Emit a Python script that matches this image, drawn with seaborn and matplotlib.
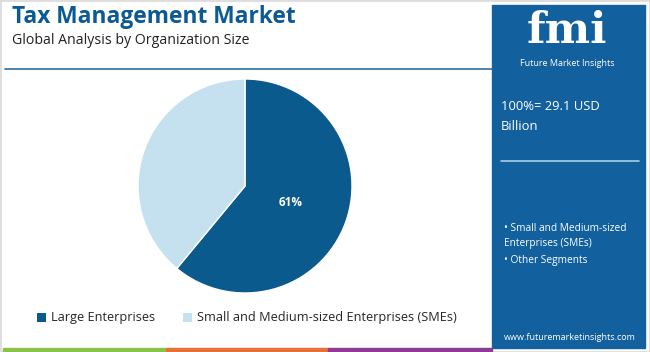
import matplotlib
matplotlib.use("Agg")
import matplotlib.pyplot as plt
from matplotlib.patches import Rectangle, Patch
import seaborn as sns

# data
segments = ["Large Enterprises", "Small and Medium-sized Enterprises (SMEs)"]
shares = [61, 39]
colors = ["#0b5a8e", "#c5e1ef"]
title = "Tax Management Market"
subtitle = "Global Analysis by Organization Size"
total_text = "100%= 29.1 USD\nBillion"
side_items = ["\u2022 Small and Medium-sized\nEnterprises (SMEs)", "\u2022 Other Segments"]

sns.set_theme(style="white")
plt.rcParams['font.family'] = ['Open Sans', 'DejaVu Sans']

W, H = 650, 352
fig = plt.figure(figsize=(W / 100, H / 100), dpi=100)
fig.patch.set_facecolor("white")

def fx(x):
    return x / W

def fy(y):
    return 1 - y / H

# outer light border
fig.add_artist(Rectangle((0, 0), 1, 1, transform=fig.transFigure, fill=False,
                         edgecolor="#dddddd", linewidth=2))

# title block
fig.text(fx(12), fy(17), title, fontsize=16.4, fontweight="bold", color="#0b5a94",
         va="center", ha="left")
fig.text(fx(12), fy(41), subtitle, fontsize=10.2, color="#222222", va="center", ha="left")
fig.add_artist(plt.Line2D([fx(5), fx(492)], [fy(69), fy(69)], transform=fig.transFigure,
                          color="#2e6fa0", linewidth=1.2))

# right panel
fig.add_artist(Rectangle((fx(492), fy(348)), fx(645) - fx(492), fy(5) - fy(348),
                         transform=fig.transFigure, color="#12609e", zorder=0))
fig.text(fx(567), fy(31), "fmi", fontsize=31, fontweight="bold", color="white",
         family="DejaVu Serif", ha="center", va="center")
fig.text(fx(567), fy(64), "Future Market Insights", fontsize=6.5, color="white",
         ha="center", va="center")
fig.text(fx(501), fy(117), total_text, fontsize=9.4, color="white", ha="left",
         va="center", linespacing=1.7)
fig.add_artist(plt.Line2D([fx(501), fx(639)], [fy(161), fy(161)], transform=fig.transFigure,
                          color="#a9cce6", linewidth=1.2))
fig.text(fx(504), fy(236), side_items[0], fontsize=7.3, color="white", ha="left",
         va="center", linespacing=1.5)
fig.text(fx(504), fy(260), side_items[1], fontsize=7.3, color="white", ha="left",
         va="center")
fig.text(fx(570), fy(337), "www.futuremarketinsights.com", fontsize=6.5, color="white",
         ha="center", va="center")

# bottom stripes
for x0, x1, c in [(3, 166, "#8bc34a"), (166, 328, "#e8703a"), (328, 492, "#8e3a96")]:
    fig.add_artist(Rectangle((fx(x0), fy(351)), fx(x1) - fx(x0), fy(348) - fy(351),
                             transform=fig.transFigure, color=c))

# pie
cx, cy, r = 245, 186, 107
ax = fig.add_axes([fx(cx - r), fy(cy + r), 2 * r / W, 2 * r / H])
wedges, texts, autotexts = ax.pie(
    shares, colors=colors, startangle=90, counterclock=False,
    autopct=lambda p: f"{p:.0f}%" if p > 50 else "", pctdistance=0.45,
    textprops=dict(color="white", fontsize=8.5, fontweight="bold"))
ax.set_xlim(-1, 1)
ax.set_ylim(-1, 1)
ax.set_aspect("equal")
ax.axis("off")

# legend
handles = [Patch(facecolor=c, edgecolor="none") for c in colors]
fig.legend(handles, segments, loc="center", bbox_to_anchor=(fx(247), fy(318)), ncol=2,
           frameon=False, fontsize=9.2, handlelength=0.7, handleheight=0.7,
           handletextpad=0.4, columnspacing=2.2)

fig.savefig("out.png", dpi=100)
